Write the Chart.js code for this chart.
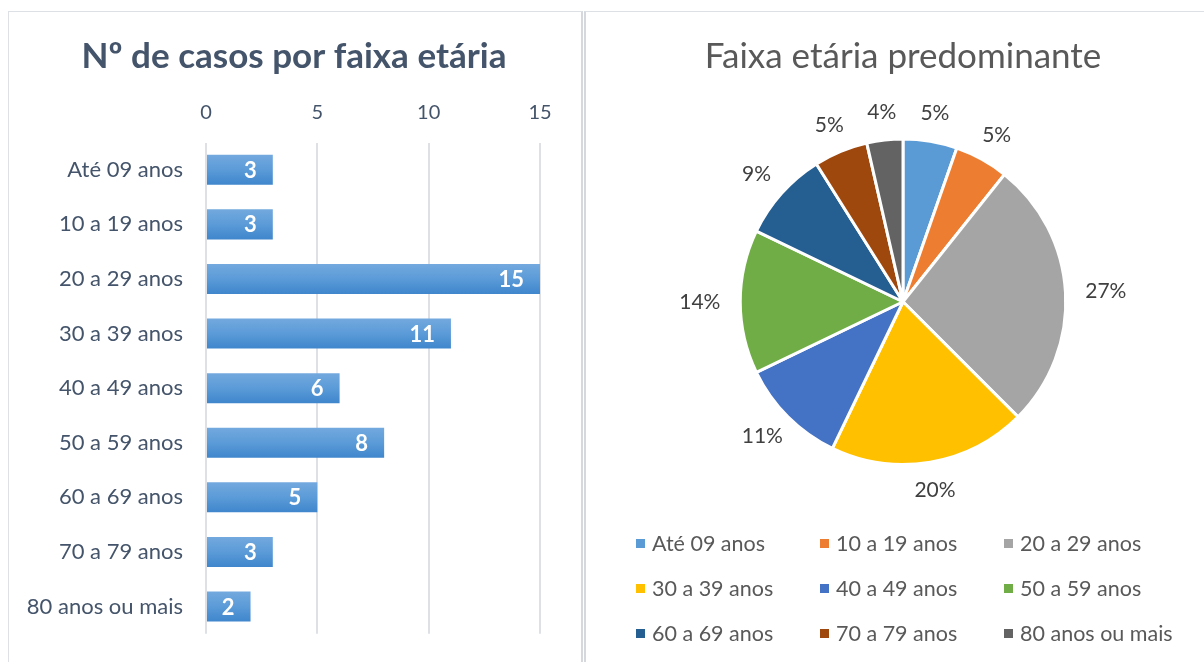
<!DOCTYPE html>
<html>
<head>
<meta charset="utf-8">
<script src="https://cdn.jsdelivr.net/npm/chart.js@4.4.1/dist/chart.umd.min.js"></script>
<style>
    html, body { margin: 0; padding: 0; background: #fff; }
    body { width: 1204px; height: 662px; position: relative; overflow: hidden; font-family: Lato, "Open Sans", sans-serif; }
    .painel { position: absolute; box-sizing: border-box; }
    #painelBarras { left: 8px; top: 11px; width: 575px; height: 700px; border: 1px solid #dde1e6; border-right: 2px solid #d5d8dc; }
    #painelPizza { left: 584px; top: 11px; width: 640px; height: 700px; border-top: 1px solid #dde1e6; border-left: 2px solid #d5d8dc; }
    #wrapBarras { position: absolute; left: 0; top: 0; width: 582px; height: 662px; }
    #wrapPizza { position: absolute; left: 582px; top: 0; width: 620px; height: 662px; }
    #legenda { position: absolute; left: 636px; top: 530px; display: grid; grid-template-columns: 184px 184px 184px; grid-auto-rows: 45px; }
    .item { display: flex; align-items: center; height: 26px; font-size: 21.5px; color: #595959; white-space: nowrap; }
    .item span.cx { width: 9px; height: 9px; margin-right: 7px; display: inline-block; }
</style>
</head>
<body>
<div class="painel" id="painelBarras"></div>
<div class="painel" id="painelPizza"></div>
<div id="wrapBarras"><canvas id="graficoBarras"></canvas></div>
<div id="wrapPizza"><canvas id="graficoPizza"></canvas></div>
<div id="legenda"></div>
<script>
// Dados
const faixas = ['Até 09 anos', '10 a 19 anos', '20 a 29 anos', '30 a 39 anos', '40 a 49 anos',
                '50 a 59 anos', '60 a 69 anos', '70 a 79 anos', '80 anos ou mais'];
const casos = [3, 3, 15, 11, 6, 8, 5, 3, 2];
const ticksX = [0, 5, 10, 15];
const coresPizza = ['#5b9bd5', '#ed7d31', '#a5a5a5', '#ffc000', '#4472c4',
                    '#70ad47', '#255e91', '#9e480e', '#636363'];

const fonte = 'Lato, "Open Sans", sans-serif';

// rótulos dentro das barras
const rotulosBarras = {
    id: 'rotulosBarras',
    afterDatasetsDraw(chart) {
        const ctx = chart.ctx;
        const meta = chart.getDatasetMeta(0);
        ctx.save();
        ctx.font = 'bold 22px ' + fonte;
        ctx.fillStyle = '#ffffff';
        ctx.textAlign = 'right';
        ctx.textBaseline = 'middle';
        meta.data.forEach(function(bar, i) {
            ctx.fillText(String(chart.data.datasets[0].data[i]), bar.x - 16, bar.y + 1);
        });
        ctx.restore();
    }
};

// evita que o rótulo mais longo do eixo y seja cortado
const semCorte = {
    id: 'semCorte',
    afterLayout(chart) {
        chart.scales.y.left = 0;
    }
};

// percentuais fora da pizza
const rotulosPizza = {
    id: 'rotulosPizza',
    afterDatasetsDraw(chart) {
        const ctx = chart.ctx;
        const meta = chart.getDatasetMeta(0);
        const dados = chart.data.datasets[0].data;
        const total = dados.reduce(function(a, b) { return a + b; }, 0);
        ctx.save();
        ctx.font = '21px ' + fonte;
        ctx.fillStyle = '#404040';
        ctx.textAlign = 'center';
        ctx.textBaseline = 'middle';
        meta.data.forEach(function(arc, i) {
            const ang = (arc.startAngle + arc.endAngle) / 2;
            const txt = Math.round(dados[i] / total * 100) + '%';
            const w = ctx.measureText(txt).width;
            const r = arc.outerRadius + 26;
            const x = arc.x + Math.cos(ang) * (r + w / 2 * 0.7 * Math.abs(Math.cos(ang)));
            const y = arc.y + Math.sin(ang) * (r + 2);
            ctx.fillText(txt, x, y);
        });
        ctx.restore();
    }
};

function gradienteBarra(context) {
    const chart = context.chart;
    const y = chart.scales && chart.scales.y;
    if (!chart.chartArea || !y) return '#5b9bd5';
    const cy = y.getPixelForValue(context.dataIndex);
    const g = chart.ctx.createLinearGradient(0, cy - 15, 0, cy + 15);
    g.addColorStop(0, '#73a9de');
    g.addColorStop(0.5, '#5b9bd8');
    g.addColorStop(1, '#3f86cc');
    return g;
}

document.addEventListener('DOMContentLoaded', function() {
    const barrasCtx = document.getElementById('graficoBarras').getContext('2d');
    new Chart(barrasCtx, {
        type: 'bar',
        data: {
            labels: faixas,
            datasets: [{
                data: casos,
                backgroundColor: gradienteBarra,
                borderWidth: 0,
                barPercentage: 0.55,
                categoryPercentage: 1
            }]
        },
        options: {
            indexAxis: 'y',
            responsive: true,
            maintainAspectRatio: false,
            animation: false,
            layout: { padding: { left: 48, right: 42, top: 0, bottom: 12 } },
            scales: {
                x: {
                    position: 'top',
                    min: 0,
                    max: 15,
                    afterBuildTicks: function(scale) {
                        scale.ticks = ticksX.map(function(v) { return { value: v }; });
                    },
                    afterFit: function(scale) { scale.height = 67; },
                    grid: { color: '#dde1e6', lineWidth: 2, drawTicks: false },
                    border: { display: false },
                    ticks: { color: '#44546a', font: { family: fonte, size: 20 }, padding: 18 }
                },
                y: {
                    afterFit: function(scale) { scale.width = 158; },
                    grid: { display: false },
                    border: { display: false },
                    ticks: { color: '#44546a', font: { family: fonte, size: 22 }, padding: 15 }
                }
            },
            plugins: {
                legend: { display: false },
                tooltip: { enabled: false },
                title: {
                    display: true,
                    text: 'Nº de casos por faixa etária',
                    color: '#44546a',
                    font: { family: fonte, size: 35, weight: 'bold', lineHeight: 1.1 },
                    padding: { top: 37, bottom: 0 }
                }
            }
        },
        plugins: [rotulosBarras, semCorte]
    });

    const pizzaCtx = document.getElementById('graficoPizza').getContext('2d');
    new Chart(pizzaCtx, {
        type: 'pie',
        data: {
            labels: faixas,
            datasets: [{
                data: casos,
                backgroundColor: coresPizza,
                borderColor: '#ffffff',
                borderWidth: 3
            }]
        },
        options: {
            responsive: true,
            maintainAspectRatio: false,
            animation: false,
            layout: { padding: { left: 102, right: 80, top: 0, bottom: 196 } },
            plugins: {
                legend: { display: false },
                tooltip: { enabled: false },
                title: {
                    display: true,
                    text: 'Faixa etária predominante',
                    color: '#595959',
                    font: { family: fonte, size: 35, weight: 'normal', lineHeight: 1.1 },
                    padding: { top: 37, bottom: 62 }
                }
            }
        },
        plugins: [rotulosPizza]
    });

    // legenda em grade
    const legenda = document.getElementById('legenda');
    faixas.forEach(function(f, i) {
        const item = document.createElement('div');
        item.className = 'item';
        item.innerHTML = '<span class="cx" style="background:' + coresPizza[i] + '"></span>' + f;
        legenda.appendChild(item);
    });
});
</script>
</body>
</html>
